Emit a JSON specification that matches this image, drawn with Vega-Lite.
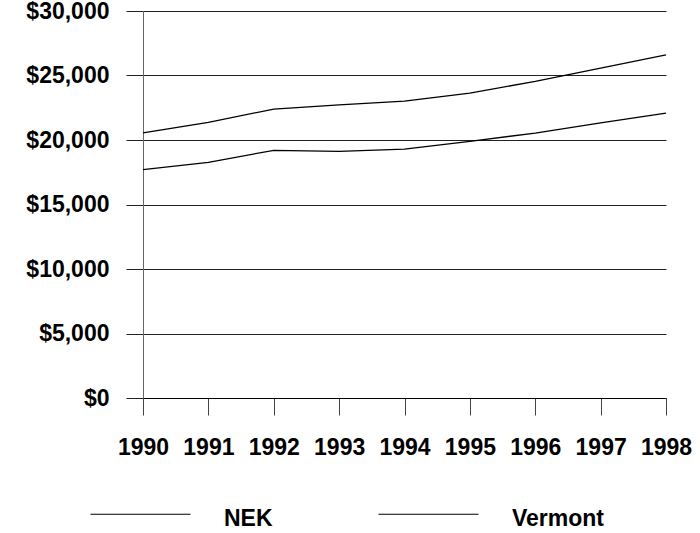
{
  "$schema": "https://vega.github.io/schema/vega-lite/v6.json",
  "width": 523,
  "height": 387,
  "autosize": {"type": "none"},
  "padding": {"left": 143, "top": 11, "right": 34, "bottom": 135},
  "background": "white",
  "config": {
    "view": {"stroke": null},
    "font": "Liberation Sans",
    "axis": {"labelFont": "Liberation Sans", "labelFontWeight": "bold", "labelFontSize": 23, "labelColor": "black"},
    "legend": {"labelFont": "Liberation Sans", "labelFontWeight": "bold", "labelFontSize": 23, "labelColor": "black"}
  },
  "data": {
    "values": [
      {"year": "1990", "region": "NEK", "income": 17700},
      {"year": "1991", "region": "NEK", "income": 18270},
      {"year": "1992", "region": "NEK", "income": 19200},
      {"year": "1993", "region": "NEK", "income": 19120},
      {"year": "1994", "region": "NEK", "income": 19300},
      {"year": "1995", "region": "NEK", "income": 19900},
      {"year": "1996", "region": "NEK", "income": 20540},
      {"year": "1997", "region": "NEK", "income": 21320},
      {"year": "1998", "region": "NEK", "income": 22090},
      {"year": "1990", "region": "Vermont", "income": 20560},
      {"year": "1991", "region": "Vermont", "income": 21360},
      {"year": "1992", "region": "Vermont", "income": 22400},
      {"year": "1993", "region": "Vermont", "income": 22730},
      {"year": "1994", "region": "Vermont", "income": 23020},
      {"year": "1995", "region": "Vermont", "income": 23640},
      {"year": "1996", "region": "Vermont", "income": 24540},
      {"year": "1997", "region": "Vermont", "income": 25570},
      {"year": "1998", "region": "Vermont", "income": 26600}
    ]
  },
  "mark": {"type": "line", "strokeWidth": 1.3},
  "encoding": {
    "x": {
      "field": "year",
      "type": "ordinal",
      "scale": {"type": "point", "padding": 0},
      "axis": {
        "title": null,
        "labelAngle": 0,
        "grid": false,
        "domain": true,
        "domainColor": "black",
        "ticks": true,
        "tickSize": 17,
        "tickColor": "#444",
        "labelPadding": 21,
        "labelDx": -5
      }
    },
    "y": {
      "field": "income",
      "type": "quantitative",
      "scale": {"domain": [0, 30000], "nice": false},
      "axis": {
        "title": null,
        "values": [0, 5000, 10000, 15000, 20000, 25000, 30000],
        "format": "$,.0f",
        "grid": true,
        "gridColor": "#222",
        "gridOpacity": 1,
        "domain": true,
        "domainColor": "#666",
        "tickSize": 17,
        "tickColor": "#222",
        "labelPadding": 17,
        "labelDy": 6
      }
    },
    "color": {
      "field": "region",
      "type": "nominal",
      "scale": {"range": ["black", "black"]},
      "legend": {
        "title": null,
        "orient": "none",
        "direction": "horizontal",
        "legendX": -53,
        "legendY": 457,
        "symbolType": "M-1,-0.09H1",
        "symbolSize": 10000,
        "symbolStrokeWidth": 1,
        "symbolFillColor": "transparent",
        "labelOffset": 33,
        "columnPadding": 103
      }
    }
  }
}
